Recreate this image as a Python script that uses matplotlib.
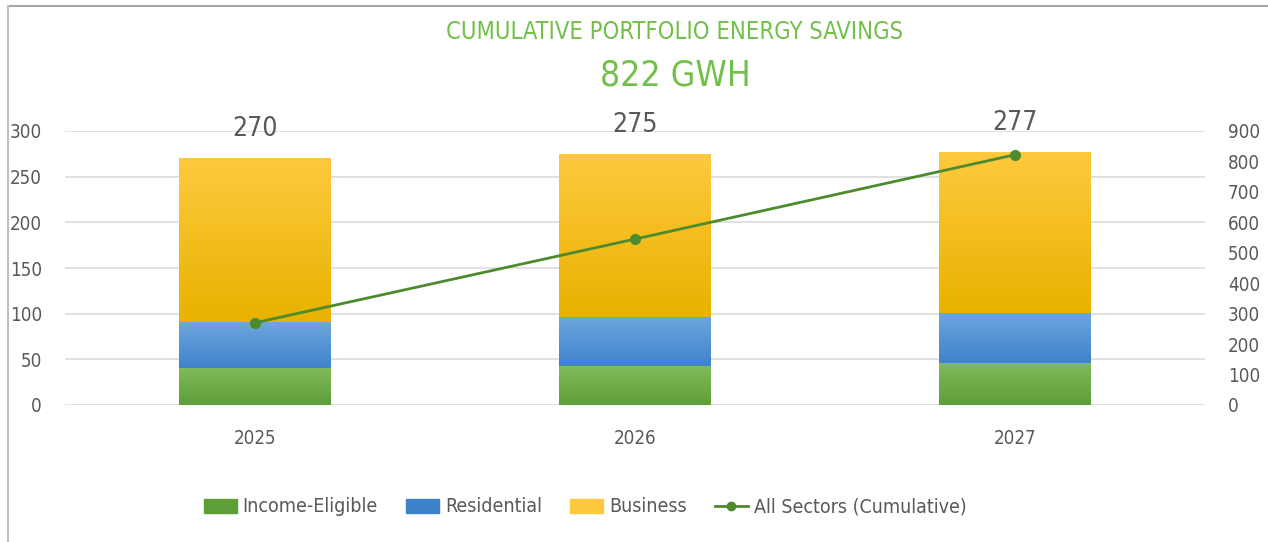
import numpy as np
import matplotlib
matplotlib.use("Agg")
import matplotlib.pyplot as plt
from matplotlib.colors import LinearSegmentedColormap
from matplotlib.patches import Patch
from matplotlib.lines import Line2D

# narrow face, like the condensed font of the original
plt.rcParams['font.family'] = ['DejaVu Sans']
plt.rcParams['font.stretch'] = 'condensed'

years = ["2025", "2026", "2027"]
income_eligible = [41, 43, 46]
residential = [50, 53, 55]
business = [179, 179, 176]
totals = [270, 275, 277]
cumulative = [270, 545, 822]

green = ("#80BC5A", "#5E9E37")
blue = ("#6DA6DD", "#3F82CC")
gold = ("#FFC93F", "#E8B200")
line_col = "#4E8A2E"
txt_col = "#595959"
title_col = "#72C04A"

fig = plt.figure(figsize=(12.68, 5.42), dpi=100)
ax = fig.add_axes([65 / 1268, 1 - 405 / 542, 1140 / 1268, 274 / 542])
ax2 = ax.twinx()

x = np.arange(len(years))
w = 0.4


def grad_bars(ax, x, h, bottom, cols):
    bars = ax.bar(x, h, w, bottom=bottom, color=cols[1], zorder=2)
    cmap = LinearSegmentedColormap.from_list("g", [cols[1], cols[0]])
    grad = np.linspace(0, 1, 100).reshape(-1, 1)
    for b in bars:
        bx, by = b.get_x(), b.get_y()
        im = ax.imshow(grad, cmap=cmap, origin="lower", aspect="auto",
                       extent=[bx, bx + b.get_width(), by, by + b.get_height()],
                       zorder=2.1)
        im.set_clip_path(b)
    return bars


bottom2 = np.array(income_eligible)
bottom3 = bottom2 + np.array(residential)
grad_bars(ax, x, income_eligible, 0, green)
grad_bars(ax, x, residential, bottom2, blue)
grad_bars(ax, x, business, bottom3, gold)

for xi, t in zip(x, totals):
    ax.text(xi, t + 32, str(t), ha="center", va="center", fontsize=19,
            color=txt_col, clip_on=False)

ax.set_xlim(-0.5, 2.5)
ax.set_ylim(0, 300)
ax.set_yticks(range(0, 301, 50))
ax.set_xticks(x)
ax.set_xticklabels(years)
ax.grid(axis="y", color="#D9D9D9", lw=1.1, zorder=0)
ax.set_axisbelow(True)
ax.tick_params(axis="y", length=0, pad=16.5, labelsize=13.5, labelcolor=txt_col)
ax.tick_params(axis="x", length=0, pad=17, labelsize=13.5, labelcolor=txt_col)
for s in ax.spines.values():
    s.set_visible(False)

ax2.plot(x, cumulative, color=line_col, lw=2, marker="o", markersize=7, zorder=5)
ax2.set_ylim(0, 900)
ax2.set_yticks(range(0, 901, 100))
ax2.tick_params(axis="y", length=0, pad=16.5, labelsize=13.5, labelcolor=txt_col)
for s in ax2.spines.values():
    s.set_visible(False)

fig.text(675 / 1268, 1 - 32 / 542, "CUMULATIVE PORTFOLIO ENERGY SAVINGS",
         ha="center", va="center", fontsize=17, color=title_col)
fig.text(675 / 1268, 1 - 75 / 542, "822 GWH", ha="center", va="center",
         fontsize=25.5, color=title_col)

handles = [Patch(color=green[1]), Patch(color=blue[1]), Patch(color=gold[0]),
           Line2D([0], [0], color=line_col, lw=2, marker="o", markersize=6)]
labels = ["Income-Eligible", "Residential", "Business", "All Sectors (Cumulative)"]
fig.legend(handles, labels, loc="center", bbox_to_anchor=(585 / 1268, 1 - 507 / 542),
           ncol=4, frameon=False, fontsize=14, labelcolor=txt_col,
           handlelength=1.7, handleheight=0.7, columnspacing=1.45, handletextpad=0.3)

# frame lines along the top and left edge of the picture
fig.add_artist(Line2D([8 / 1268, 1], [1 - 6 / 542] * 2, transform=fig.transFigure,
                      color="#A6A6A6", lw=1.5))
fig.add_artist(Line2D([8 / 1268] * 2, [0, 1 - 6 / 542], transform=fig.transFigure,
                      color="#BFBFBF", lw=1.5))

fig.savefig("out.png", dpi=100)
